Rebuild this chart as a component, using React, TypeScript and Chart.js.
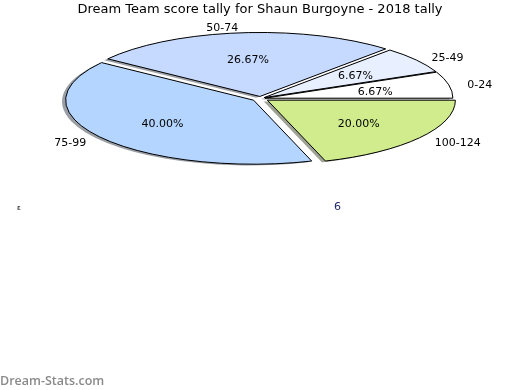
import React, { useEffect, useRef } from "react";
import { Chart, registerables } from "chart.js";

Chart.register(...registerables);

// ---- data ----
const TITLE = "Dream Team score tally for Shaun Burgoyne - 2018 tally";
const categories = ["0-24", "25-49", "50-74", "75-99", "100-124"];
const counts = [1, 1, 4, 6, 3];
const strayLabels = ["ε", "6"];
const watermark = "Dream-Stats.com";

// ---- style ----
const sliceColors = ["#ffffff", "#e8f0ff", "#c6d9ff", "#b4d5ff", "#d0ec8c"];
const explodePx = [4.5, 4.5, 6, 8.5, 8.5];
const CX = 260.5;
const CY = 98.5;
const RX = 188;
const RY = 64;
const K = RY / RX;
const SHADOW_DX = -3.6;
const SHADOW_DY = 1.3;
const TEXT_DY = 1.5;
const FONT = "'DejaVu Sans', sans-serif";

// chart draws clockwise, the reference runs counter-clockwise from 3 o'clock
const order = categories.map((_, i) => categories.length - 1 - i);

function hexToRgb(h: string) {
  const v = parseInt(h.slice(1), 16);
  return [(v >> 16) & 255, (v >> 8) & 255, v & 255];
}

function setArcTransform(ctx: CanvasRenderingContext2D, a: any, d: number, sx: number, sy: number) {
  const mid = (a.startAngle + a.endAngle) / 2;
  ctx.translate(CX + sx, CY + sy);
  ctx.scale(1, K);
  ctx.translate(d * Math.cos(mid) - a.x, d * Math.sin(mid) - a.y);
}

function wedgePath(ctx: CanvasRenderingContext2D, a: any) {
  ctx.beginPath();
  ctx.moveTo(a.x, a.y);
  ctx.arc(a.x, a.y, a.outerRadius, a.startAngle, a.endAngle);
  ctx.closePath();
}

const ellipsePie = {
  id: "ellipsePie",
  beforeDatasetsDraw(chart: any) {
    const ctx: CanvasRenderingContext2D = chart.ctx;
    const arcs = chart.getDatasetMeta(0).data;
    // shadows
    arcs.forEach((a: any, i: number) => {
      const src = order[i];
      const [r, g, b] = hexToRgb(sliceColors[src]);
      ctx.save();
      setArcTransform(ctx, a, explodePx[src], SHADOW_DX, SHADOW_DY);
      wedgePath(ctx, a);
      ctx.fillStyle = `rgba(${Math.round(r * 0.3)},${Math.round(g * 0.3)},${Math.round(b * 0.3)},0.5)`;
      ctx.fill();
      ctx.restore();
    });
    // fills via the library's arc elements
    arcs.forEach((a: any, i: number) => {
      const src = order[i];
      ctx.save();
      setArcTransform(ctx, a, explodePx[src], 0, 0);
      a.draw(ctx);
      ctx.restore();
    });
    // outlines, stroked without the vertical squash
    arcs.forEach((a: any, i: number) => {
      const src = order[i];
      ctx.save();
      setArcTransform(ctx, a, explodePx[src], 0, 0);
      wedgePath(ctx, a);
      ctx.restore();
      ctx.save();
      ctx.strokeStyle = "#000000";
      ctx.lineWidth = 1;
      ctx.lineJoin = "miter";
      ctx.stroke();
      ctx.restore();
    });
    return false;
  },
  afterDraw(chart: any) {
    const ctx: CanvasRenderingContext2D = chart.ctx;
    const arcs = chart.getDatasetMeta(0).data;
    const total = counts.reduce((s, v) => s + v, 0);
    ctx.save();
    ctx.font = `11px ${FONT}`;
    ctx.fillStyle = "#000000";
    ctx.textBaseline = "middle";
    arcs.forEach((a: any, i: number) => {
      const src = order[i];
      const mid = (a.startAngle + a.endAngle) / 2;
      const d = explodePx[src];
      const c = Math.cos(mid);
      const s = Math.sin(mid);
      const lr = d + 1.1 * a.outerRadius;
      const lx = CX + lr * c;
      const ly = CY + lr * s * K + TEXT_DY;
      ctx.textAlign = c > 0 ? "left" : "right";
      ctx.fillText(categories[src], lx, ly);
      const pr = d + 0.6 * a.outerRadius;
      ctx.textAlign = "center";
      ctx.fillText(((counts[src] / total) * 100).toFixed(2) + "%", CX + pr * c, CY + pr * s * K + TEXT_DY);
    });
    // stray marks
    ctx.textAlign = "left";
    ctx.font = `7px ${FONT}`;
    ctx.fillStyle = "#000000";
    ctx.fillText(strayLabels[0], 17, 208);
    ctx.font = `11px ${FONT}`;
    ctx.fillStyle = "#222a6a";
    ctx.fillText(strayLabels[1], 334, 207);
    // watermark
    ctx.font = `600 12.5px 'Open Sans', sans-serif`;
    ctx.fillStyle = "#8a8a8a";
    ctx.textBaseline = "alphabetic";
    ctx.fillText(watermark, 0, 385);
    ctx.restore();
  },
};

export default function App() {
  const ref = useRef<HTMLCanvasElement | null>(null);
  useEffect(() => {
    if (!ref.current) return;
    const chart = new Chart(ref.current, {
      type: "pie",
      data: {
        labels: order.map((i) => categories[i]),
        datasets: [
          {
            data: order.map((i) => counts[i]),
            backgroundColor: order.map((i) => sliceColors[i]),
            borderWidth: 0,
          },
        ],
      },
      options: {
        responsive: false,
        animation: false,
        rotation: 90,
        radius: RX,
        layout: { padding: 0 },
        plugins: {
          legend: { display: false },
          tooltip: { enabled: false },
          title: {
            display: true,
            text: TITLE,
            color: "#000000",
            font: { family: FONT, size: 13, weight: "normal" },
            padding: { top: 2, bottom: 0 },
          },
        },
      },
      plugins: [ellipsePie],
    });
    return () => chart.destroy();
  }, []);
  return (
    <div style={{ position: "absolute", left: 0, top: 0, width: 520, height: 390, background: "#ffffff" }}>
      <canvas ref={ref} width={520} height={390} style={{ display: "block" }} />
    </div>
  );
}
